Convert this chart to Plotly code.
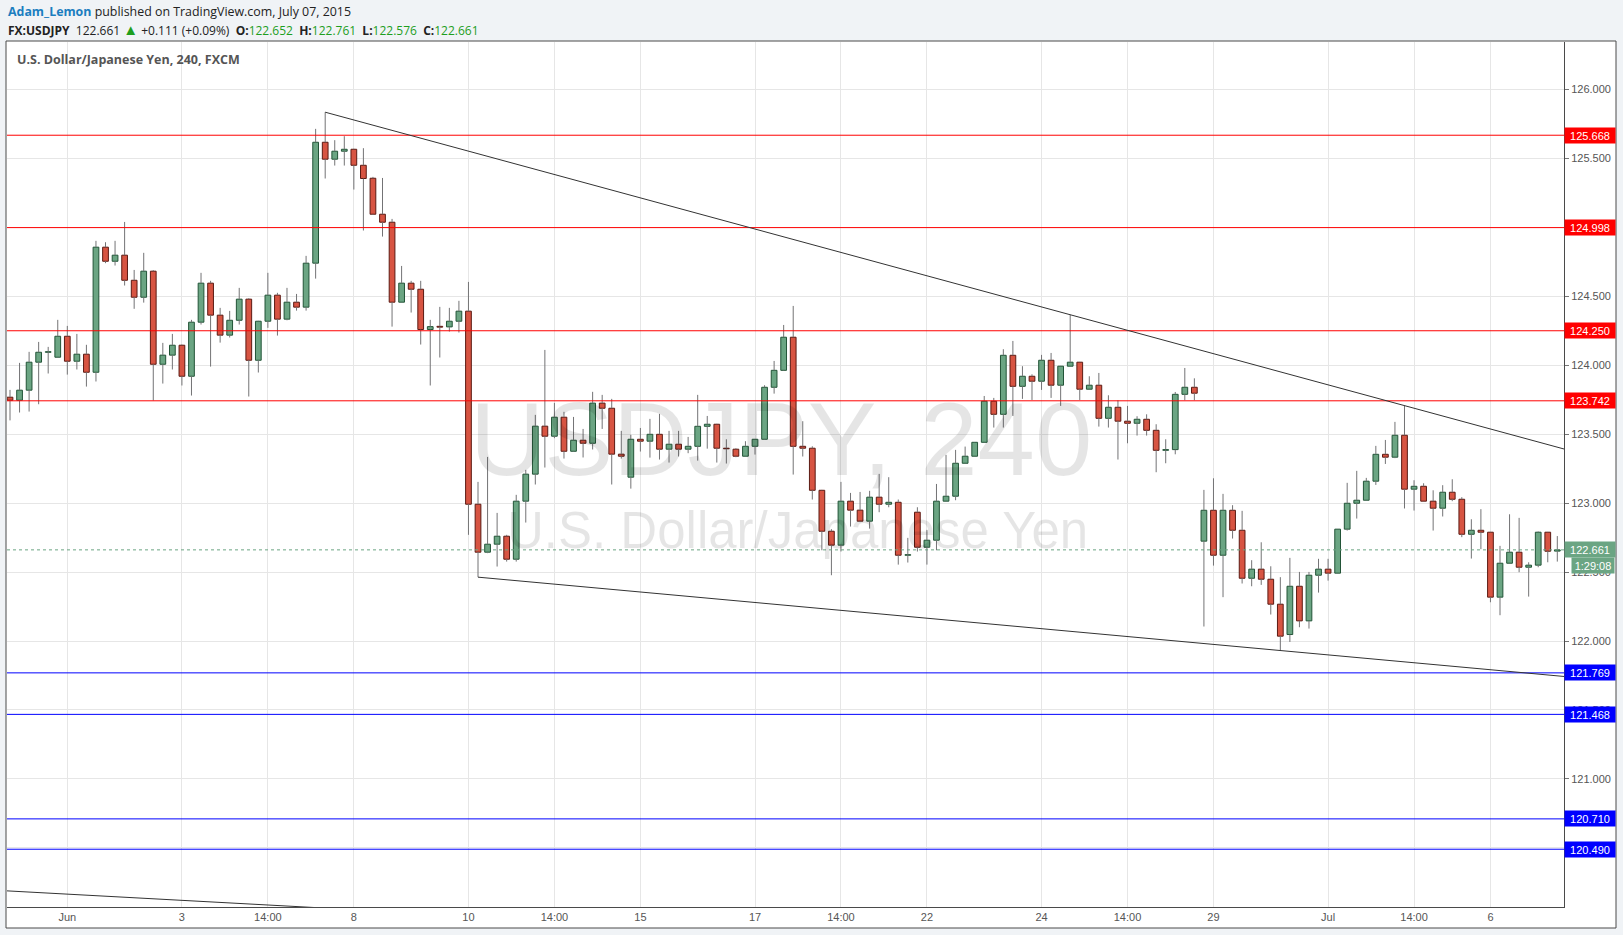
import plotly.graph_objects as go

# ---------------- data (USDJPY, 240 min candles) ----------------
open_ = [123.768, 123.746, 123.819, 124.022, 124.094, 124.058, 124.210, 124.029, 124.080, 123.949,
         124.856, 124.754, 124.798, 124.616, 124.493, 124.682, 124.007, 124.073, 124.145, 123.920,
         124.312, 124.595, 124.363, 124.218, 124.326, 124.479, 124.036, 124.319, 124.508, 124.334,
         124.457, 124.421, 124.740, 125.617, 125.494, 125.552, 125.566, 125.450, 125.356, 125.095,
         125.037, 124.457, 124.595, 124.551, 124.259, 124.282, 124.278, 124.319, 124.392, 122.992,
         122.644, 122.702, 122.760, 122.593, 123.014, 123.210, 123.558, 123.485, 123.623, 123.376,
         123.456, 123.434, 123.725, 123.688, 123.355, 123.188, 123.463, 123.449, 123.499, 123.391,
         123.427, 123.391, 123.412, 123.557, 123.572, 123.398, 123.391, 123.340, 123.412, 123.463,
         123.840, 123.963, 124.203, 123.412, 123.398, 123.093, 122.796, 122.695, 123.014, 122.949,
         122.869, 123.043, 122.992, 123.006, 122.622, 122.934, 122.680, 122.731, 123.014, 123.050,
         123.289, 123.340, 123.441, 123.739, 123.644, 124.072, 123.847, 123.920, 123.884, 124.036,
         123.855, 123.993, 124.022, 123.826, 123.855, 123.615, 123.695, 123.594, 123.579, 123.608,
         123.528, 123.383, 123.388, 123.789, 123.840, 122.724, 122.948, 122.622, 122.948, 122.803,
         122.455, 122.521, 122.448, 122.267, 122.047, 122.397, 122.146, 122.477, 122.521, 122.492,
         122.811, 122.999, 123.021, 123.159, 123.354, 123.333, 123.492, 123.101, 123.122, 123.014,
         122.963, 123.079, 123.028, 122.774, 122.803, 122.789, 122.318, 122.564, 122.644, 122.535,
         122.550, 122.789, 122.652]
high = [123.821, 124.017, 124.097, 124.169, 124.133, 124.329, 124.285, 124.227, 124.148, 124.902,
        124.892, 124.902, 125.039, 124.691, 124.815, 124.690, 124.162, 124.227, 124.150, 124.329,
        124.670, 124.612, 124.416, 124.394, 124.561, 124.486, 124.322, 124.670, 124.525, 124.561,
        124.517, 124.793, 125.714, 125.835, 125.632, 125.661, 125.570, 125.574, 125.366, 125.358,
        125.061, 124.720, 124.612, 124.612, 124.329, 124.423, 124.416, 124.467, 124.604, 123.154,
        123.335, 122.929, 122.770, 123.060, 123.241, 123.640, 124.111, 123.727, 123.662, 123.625,
        123.538, 123.807, 123.785, 123.756, 123.524, 123.495, 123.545, 123.611, 123.647, 123.524,
        123.524, 123.480, 123.785, 123.632, 123.575, 123.463, 123.398, 123.449, 123.465, 123.855,
        124.031, 124.292, 124.430, 123.594, 123.412, 123.096, 122.811, 123.154, 123.074, 123.081,
        123.089, 123.212, 123.188, 123.026, 122.748, 122.970, 122.806, 123.139, 123.350, 123.386,
        123.410, 123.443, 123.777, 123.763, 124.116, 124.176, 123.993, 123.934, 124.075, 124.089,
        123.995, 124.365, 124.024, 123.920, 123.944, 123.782, 123.746, 123.705, 123.630, 123.644,
        123.572, 123.463, 123.806, 123.980, 123.905, 123.096, 123.180, 123.067, 122.985, 122.944,
        122.586, 122.716, 122.542, 122.463, 122.603, 122.501, 122.501, 122.596, 122.596, 122.811,
        123.147, 123.234, 123.183, 123.415, 123.458, 123.589, 123.707, 123.166, 123.144, 123.093,
        123.130, 123.173, 123.043, 122.883, 122.956, 122.791, 122.690, 122.919, 122.893, 122.571,
        122.794, 122.791, 122.761]
low = [123.600, 123.657, 123.664, 123.717, 123.940, 124.055, 123.932, 123.969, 123.845, 123.882,
       124.740, 124.723, 124.578, 124.409, 124.454, 123.744, 123.867, 123.969, 123.853, 123.780,
       124.295, 123.990, 124.164, 124.201, 124.295, 123.773, 123.947, 124.271, 124.215, 124.326,
       124.396, 124.396, 124.628, 125.354, 125.448, 125.448, 125.274, 124.977, 125.090, 124.933,
       124.280, 124.455, 124.382, 124.150, 123.853, 124.056, 124.244, 124.237, 122.770, 122.463,
       122.637, 122.540, 122.576, 122.576, 122.859, 123.135, 123.258, 123.471, 123.323, 123.372,
       123.331, 123.389, 123.538, 123.135, 123.323, 123.105, 123.374, 123.330, 123.316, 123.294,
       123.338, 123.362, 123.308, 123.395, 123.294, 123.287, 123.333, 123.338, 123.352, 123.460,
       123.794, 123.960, 123.207, 123.338, 123.026, 122.658, 122.477, 122.649, 122.830, 122.862,
       122.815, 122.934, 122.970, 122.554, 122.569, 122.649, 122.554, 122.658, 123.012, 123.021,
       123.287, 123.338, 123.439, 123.548, 123.548, 123.632, 123.756, 123.748, 123.821, 123.763,
       123.705, 123.991, 123.748, 123.824, 123.555, 123.548, 123.316, 123.434, 123.490, 123.490,
       123.224, 123.289, 123.354, 123.746, 123.746, 122.105, 122.547, 122.318, 122.743, 122.417,
       122.397, 122.407, 122.192, 121.931, 121.993, 122.100, 122.090, 122.351, 122.438, 122.490,
       122.801, 122.888, 123.019, 123.132, 123.284, 123.326, 122.961, 122.946, 123.012, 122.801,
       122.903, 123.014, 122.753, 122.598, 122.666, 122.281, 122.187, 122.562, 122.499, 122.322,
       122.535, 122.571, 122.576]
close = [123.746, 123.819, 124.022, 124.094, 124.097, 124.210, 124.029, 124.080, 123.949, 124.856,
         124.754, 124.798, 124.616, 124.493, 124.682, 124.007, 124.073, 124.145, 123.920, 124.312,
         124.595, 124.363, 124.218, 124.326, 124.479, 124.036, 124.319, 124.508, 124.334, 124.457,
         124.421, 124.740, 125.617, 125.494, 125.552, 125.566, 125.450, 125.354, 125.095, 125.037,
         124.457, 124.595, 124.551, 124.259, 124.280, 124.276, 124.319, 124.392, 122.992, 122.644,
         122.702, 122.760, 122.593, 123.014, 123.210, 123.558, 123.485, 123.623, 123.376, 123.456,
         123.434, 123.725, 123.688, 123.355, 123.340, 123.463, 123.449, 123.499, 123.391, 123.427,
         123.391, 123.412, 123.557, 123.572, 123.398, 123.394, 123.340, 123.412, 123.463, 123.840,
         123.963, 124.203, 123.412, 123.398, 123.093, 122.796, 122.695, 123.014, 122.949, 122.869,
         123.043, 122.992, 123.006, 122.622, 122.625, 122.680, 122.731, 123.014, 123.050, 123.289,
         123.340, 123.441, 123.739, 123.644, 124.072, 123.847, 123.920, 123.884, 124.036, 123.855,
         123.993, 124.022, 123.826, 123.855, 123.615, 123.695, 123.594, 123.579, 123.608, 123.528,
         123.383, 123.388, 123.789, 123.840, 123.797, 122.948, 122.622, 122.948, 122.803, 122.455,
         122.521, 122.448, 122.267, 122.035, 122.397, 122.146, 122.477, 122.521, 122.492, 122.811,
         122.999, 123.021, 123.159, 123.354, 123.333, 123.492, 123.101, 123.122, 123.014, 122.963,
         123.079, 123.028, 122.774, 122.803, 122.789, 122.318, 122.564, 122.644, 122.535, 122.550,
         122.789, 122.651, 122.661]

# time axis labels (candle number where each label sits)
tick_candle = [7, 19, 28, 37, 49, 58, 67, 79, 88, 97, 109, 118, 127, 139, 148, 156]
tick_text = ["Jun", "3", "14:00", "8", "10", "14:00", "15", "17", "14:00", "22",
             "24", "14:00", "29", "Jul", "14:00", "6"]

resistance_levels = [125.668, 124.998, 124.250, 123.742]
support_levels = [121.769, 121.468, 120.710, 120.490]
last_price = 122.661
countdown = "1:29:08"

# trend lines: anchor points (candle number, price)
upper_trend = [(34, 125.835), (147, 123.707)]
lower_trend = [(50, 122.463), (134, 121.931)]
old_trend = [(0.686, 120.188), (30.8, 120.075)]

# ---------------- styling ----------------
UP_FILL, UP_LINE = "#6ba583", "#225437"
DN_FILL, DN_LINE = "#d75442", "#5b1a13"
WICK = "#737375"
GRID = "#e6e6e6"
AXIS_TXT = "#555555"

n = len(open_)
idx = list(range(1, n + 1))
is_up = [c >= o for o, c in zip(open_, close)]
body_base = [min(o, c) for o, c in zip(open_, close)]
body_len = [max(abs(c - o), 0.004) for o, c in zip(open_, close)]

wx, wy = [], []
for i, o, h, l, c in zip(idx, open_, high, low, close):
    top, bot = max(o, c), min(o, c)
    if h > top:
        wx += [i, i, None]
        wy += [top, h, None]
    if l < bot:
        wx += [i, i, None]
        wy += [l, bot, None]

X_MIN, X_MAX = 0.686, 163.7
Y_MIN, Y_MAX = 120.071, 126.344

fig = go.Figure()
fig.add_trace(go.Bar(
    x=idx, y=body_len, base=body_base, width=0.6,
    marker=dict(color=[UP_FILL if u else DN_FILL for u in is_up],
                line=dict(color=[UP_LINE if u else DN_LINE for u in is_up], width=1)),
    hoverinfo="skip", showlegend=False))
fig.add_trace(go.Scatter(x=wx, y=wy, mode="lines", line=dict(color=WICK, width=1),
                         hoverinfo="skip", showlegend=False))

shapes = []
# outer white frame of chart
shapes.append(dict(type="rect", xref="paper", yref="paper",
                   x0=-1 / 1557, x1=1609 / 1557, y0=-21 / 865, y1=866 / 865,
                   fillcolor="white", line=dict(color="#4a4a4a", width=1), layer="below"))
for lv in resistance_levels:
    shapes.append(dict(type="line", xref="paper", yref="y", x0=0, x1=1, y0=lv, y1=lv,
                       line=dict(color="#ff0000", width=1)))
for lv in support_levels:
    shapes.append(dict(type="line", xref="paper", yref="y", x0=0, x1=1, y0=lv, y1=lv,
                       line=dict(color="#0000ff", width=1)))
shapes.append(dict(type="line", xref="paper", yref="y", x0=0, x1=1, y0=last_price, y1=last_price,
                   line=dict(color=UP_FILL, width=1, dash="dot")))


def trend(pts, x_end):
    (xa, ya), (xb, yb) = pts
    slope = (yb - ya) / (xb - xa)
    return dict(type="line", xref="x", yref="y", x0=xa, y0=ya, x1=x_end,
                y1=ya + slope * (x_end - xa), line=dict(color="#333333", width=1))


shapes.append(trend(upper_trend, X_MAX))
shapes.append(trend(lower_trend, X_MAX))
shapes.append(trend(old_trend, 40))

ann = []
LBL_FONT = dict(family="Liberation Sans, Arial", size=11, color="white")
for lv in resistance_levels:
    ann.append(dict(xref="paper", yref="y", x=1, y=lv, xanchor="left", yanchor="middle",
                    text=f"{lv:.3f}", showarrow=False, bgcolor="#ff0000", font=LBL_FONT,
                    width=48, height=13, borderpad=1, align="center"))
for lv in support_levels:
    ann.append(dict(xref="paper", yref="y", x=1, y=lv, xanchor="left", yanchor="middle",
                    text=f"{lv:.3f}", showarrow=False, bgcolor="#0000ff", font=LBL_FONT,
                    width=48, height=13, borderpad=1, align="center"))
ann.append(dict(xref="paper", yref="y", x=1, y=last_price, xanchor="left", yanchor="middle",
                text=f"{last_price:.3f}", showarrow=False, bgcolor=UP_FILL, font=LBL_FONT,
                width=48, height=13, borderpad=1, align="center"))
ann.append(dict(xref="paper", yref="y", x=1, y=last_price, xanchor="left", yanchor="middle",
                yshift=-16, xshift=7, text=countdown, showarrow=False, bgcolor=UP_FILL,
                font=LBL_FONT, width=40, height=13, borderpad=1, align="center"))

# watermark
ann.append(dict(xref="paper", yref="paper", x=0.4971, y=0.540, xanchor="center", yanchor="middle",
                text="USDJPY, 240", showarrow=False,
                font=dict(family="Liberation Sans, Arial", size=103, color="rgba(0,0,0,0.10)")))
ann.append(dict(xref="paper", yref="paper", x=0.508, y=0.4347, xanchor="center", yanchor="middle",
                text="U.S. Dollar/Japanese Yen", showarrow=False,
                font=dict(family="Liberation Sans, Arial", size=51, color="rgba(0,0,0,0.10)")))

# headers
HFONT = "Open Sans, Noto Sans, sans-serif"
G = "#1e9e1e"
ann.append(dict(xref="paper", yref="paper", x=-1 / 1557, y=(907 - 12) / 865, xanchor="left",
                yanchor="middle", showarrow=False,
                text="<b><span style='color:#1b7ec0'>Adam_Lemon</span></b> published on TradingView.com, July 07, 2015",
                font=dict(family=HFONT, size=12.4, color="#222222")))
ann.append(dict(xref="paper", yref="paper", x=-1 / 1557, y=(907 - 29) / 865, xanchor="left",
                yanchor="middle", showarrow=False,
                text=(f"<b>FX:USDJPY</b>  122.661 <span style='color:{G};font-size:15px'>▲</span> +0.111 (+0.09%)  "
                      f"<b>O:</b><span style='color:{G}'>122.652</span>  "
                      f"<b>H:</b><span style='color:{G}'>122.761</span>  "
                      f"<b>L:</b><span style='color:{G}'>122.576</span>  "
                      f"<b>C:</b><span style='color:{G}'>122.661</span>"),
                font=dict(family=HFONT, size=12, color="#222222")))
ann.append(dict(xref="paper", yref="paper", x=8 / 1557, y=(907 - 60) / 865, xanchor="left",
                yanchor="middle", showarrow=False,
                text="<b>U.S. Dollar/Japanese Yen, 240, FXCM</b>",
                font=dict(family=HFONT, size=12.5, color="#555555")))

fig.update_layout(
    width=1623, height=935,
    margin=dict(l=7, r=59, t=42, b=28),
    paper_bgcolor="#f0f3f6", plot_bgcolor="white",
    barmode="overlay", showlegend=False,
    shapes=shapes, annotations=ann,
    xaxis=dict(range=[X_MIN, X_MAX], tickvals=tick_candle, ticktext=tick_text,
               showgrid=True, gridcolor=GRID, gridwidth=1, zeroline=False,
               showline=True, linecolor="#4a4a4a", linewidth=1, ticks="",
               tickfont=dict(family="Liberation Sans, Arial", size=11, color=AXIS_TXT)),
    yaxis=dict(range=[Y_MIN, Y_MAX], side="right", tick0=120, dtick=0.5, tickformat=".3f",
               showgrid=True, gridcolor=GRID, gridwidth=1, zeroline=False,
               showline=True, linecolor="#4a4a4a", linewidth=1,
               ticks="outside", ticklen=4, tickcolor="#777777",
               tickfont=dict(family="Liberation Sans, Arial", size=11, color=AXIS_TXT)),
)

fig.write_html("out.html", config={"displayModeBar": False},
               post_script="document.body.style.margin='0px';document.body.style.overflow='hidden';")
